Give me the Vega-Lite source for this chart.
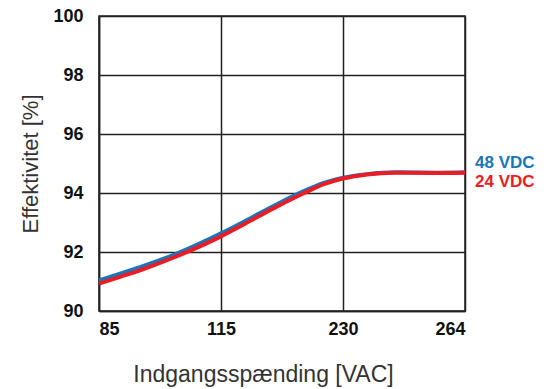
{
  "$schema": "https://vega.github.io/schema/vega-lite/v6.json",
  "width": 366,
  "height": 295,
  "autosize": {"type": "none"},
  "padding": {"left": 99, "top": 16, "right": 85, "bottom": 78},
  "background": "white",
  "config": {
    "view": {"stroke": "#222222", "strokeWidth": 1.5},
    "font": "Liberation Sans",
    "axis": {
      "gridColor": "#222222", "gridWidth": 1.5, "gridOpacity": 1,
      "domainColor": "#222222", "domainWidth": 1.5,
      "ticks": false,
      "labelFont": "Liberation Sans", "labelFontWeight": "bold", "labelFontSize": 18, "labelColor": "#111111",
      "titleFont": "Liberation Sans", "titleFontWeight": "normal", "titleColor": "#333333"
    }
  },
  "data": {
    "values": [
      {"v": 85, "eff": 91.04, "s": "48 VDC"},
      {"v": 90, "eff": 91.26, "s": "48 VDC"},
      {"v": 95.1, "eff": 91.49, "s": "48 VDC"},
      {"v": 103.7, "eff": 91.92, "s": "48 VDC"},
      {"v": 115, "eff": 92.63, "s": "48 VDC"},
      {"v": 137.7, "eff": 93.05, "s": "48 VDC"},
      {"v": 164, "eff": 93.55, "s": "48 VDC"},
      {"v": 193.5, "eff": 94.07, "s": "48 VDC"},
      {"v": 212, "eff": 94.34, "s": "48 VDC"},
      {"v": 230, "eff": 94.52, "s": "48 VDC"},
      {"v": 236.7, "eff": 94.64, "s": "48 VDC"},
      {"v": 244.5, "eff": 94.7, "s": "48 VDC"},
      {"v": 256.2, "eff": 94.69, "s": "48 VDC"},
      {"v": 264, "eff": 94.7, "s": "48 VDC"},
      {"v": 85, "eff": 90.93, "s": "24 VDC"},
      {"v": 90, "eff": 91.15, "s": "24 VDC"},
      {"v": 95.1, "eff": 91.38, "s": "24 VDC"},
      {"v": 103.7, "eff": 91.83, "s": "24 VDC"},
      {"v": 115, "eff": 92.53, "s": "24 VDC"},
      {"v": 137.7, "eff": 92.96, "s": "24 VDC"},
      {"v": 164, "eff": 93.47, "s": "24 VDC"},
      {"v": 193.5, "eff": 94.0, "s": "24 VDC"},
      {"v": 212, "eff": 94.3, "s": "24 VDC"},
      {"v": 230, "eff": 94.49, "s": "24 VDC"},
      {"v": 236.7, "eff": 94.63, "s": "24 VDC"},
      {"v": 244.5, "eff": 94.69, "s": "24 VDC"},
      {"v": 256.2, "eff": 94.68, "s": "24 VDC"},
      {"v": 264, "eff": 94.69, "s": "24 VDC"}
    ]
  },
  "encoding": {
    "x": {
      "field": "v", "type": "quantitative",
      "scale": {"domain": [85, 115, 230, 264], "range": [0, 122, 244, 366], "clamp": true},
      "axis": {"values": [85, 115, 230, 264], "title": "Indgangsspænding [VAC]", "labelPadding": 9, "grid": true,
        "titleFontSize": 23, "titleX": 164, "titleY": 70, "titleAlign": "center", "titleBaseline": "alphabetic"}
    },
    "y": {
      "field": "eff", "type": "quantitative",
      "scale": {"domain": [90, 100], "nice": false, "zero": false},
      "axis": {"values": [90, 92, 94, 96, 98, 100], "title": "Effektivitet [%]", "labelPadding": 16, "grid": true,
        "titleFontSize": 22, "titleX": -62, "titleY": 147.5, "titleAlign": "center", "titleBaseline": "alphabetic", "titleAngle": -90}
    }
  },
  "layer": [
    {
      "transform": [{"filter": "datum.s == '48 VDC'"}],
      "mark": {"type": "line", "interpolate": "monotone", "strokeWidth": 4, "color": "#1b75bb"}
    },
    {
      "transform": [{"filter": "datum.s == '24 VDC'"}],
      "mark": {"type": "line", "interpolate": "monotone", "strokeWidth": 4, "color": "#ec1c24"}
    },
    {
      "transform": [{"filter": "datum.s == '48 VDC' && datum.v == 264"}],
      "mark": {"type": "text", "align": "left", "dx": 10, "dy": -9.5, "fontWeight": "bold", "fontSize": 17, "color": "#1b75bb", "font": "Liberation Sans"},
      "encoding": {"text": {"field": "s"}}
    },
    {
      "transform": [{"filter": "datum.s == '24 VDC' && datum.v == 264"}],
      "mark": {"type": "text", "align": "left", "dx": 10, "dy": 9, "fontWeight": "bold", "fontSize": 17, "color": "#ec1c24", "font": "Liberation Sans"},
      "encoding": {"text": {"field": "s"}}
    }
  ]
}
